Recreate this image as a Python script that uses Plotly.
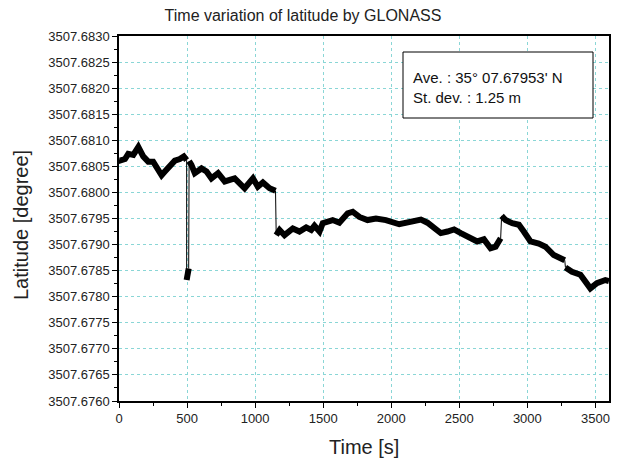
import plotly.graph_objects as go

# ---- data ----
seg1_t = [0, 7, 44, 68, 105, 142, 178, 215, 251, 288, 313, 337, 374, 410, 447, 476, 497]
seg1_lat = [3507.68063, 3507.68061, 3507.68064, 3507.68074, 3507.68072, 3507.68087, 3507.68069,
            3507.68059, 3507.68059, 3507.68046, 3507.68033, 3507.68040, 3507.68049, 3507.68061,
            3507.68064, 3507.68069, 3507.68062]

seg2_t = [497, 504, 512]
seg2_lat = [3507.67832, 3507.67843, 3507.67854]

seg3_t = [515, 532, 557, 606, 643, 679, 728, 777, 850, 923, 984, 1020, 1057, 1106, 1150]
seg3_lat = [3507.68060, 3507.68053, 3507.68037, 3507.68046, 3507.68040, 3507.68027, 3507.68037,
            3507.68021, 3507.68027, 3507.68008, 3507.68027, 3507.68011, 3507.68019, 3507.68008,
            3507.68003]

seg4_t = [1155, 1180, 1216, 1277, 1326, 1375, 1412, 1436, 1473, 1497, 1570, 1619, 1680, 1717,
          1766, 1826, 1888, 1961, 2059, 2132, 2218, 2266, 2303, 2364, 2413, 2462, 2511, 2571,
          2632, 2681, 2730, 2767, 2804]
seg4_lat = [3507.67918, 3507.67928, 3507.67918, 3507.67931, 3507.67925, 3507.67933, 3507.67928,
            3507.67936, 3507.67925, 3507.67941, 3507.67947, 3507.67942, 3507.67960, 3507.67963,
            3507.67953, 3507.67947, 3507.67950, 3507.67947, 3507.67939, 3507.67942, 3507.67948,
            3507.67942, 3507.67934, 3507.67922, 3507.67925, 3507.67929, 3507.67922, 3507.67915,
            3507.67906, 3507.67910, 3507.67893, 3507.67896, 3507.67912]

seg5_t = [2811, 2840, 2889, 2938, 2974, 3023, 3084, 3133, 3194, 3231, 3275]
seg5_lat = [3507.67955, 3507.67947, 3507.67941, 3507.67938, 3507.67925, 3507.67906, 3507.67902,
            3507.67896, 3507.67880, 3507.67874, 3507.67870]

seg6_t = [3280, 3328, 3390, 3463, 3511, 3573, 3600]
seg6_lat = [3507.67856, 3507.67848, 3507.67842, 3507.67816, 3507.67826, 3507.67832, 3507.67830]

segments = [(seg1_t, seg1_lat), (seg2_t, seg2_lat), (seg3_t, seg3_lat),
            (seg4_t, seg4_lat), (seg5_t, seg5_lat), (seg6_t, seg6_lat)]

x_ticks = [0, 500, 1000, 1500, 2000, 2500, 3000, 3500]
y_ticks = [3507.6760 + 0.0005 * i for i in range(15)]
y_tick_labels = ["%.4f" % v for v in y_ticks]

title_text = "Time variation of latitude by GLONASS"
x_title = "Time [s]"
y_title = "Latitude [degree]"
stat_lines = ["Ave. : 35° 07.67953' N", "St. dev. : 1.25 m"]

FONT = "Liberation Sans, Arial, sans-serif"
# page is 619x462; the figure div sits at an 8px body margin offset
OFF = 8
W, H = 619 - OFF, 462 - OFF
# plot area in page pixels: x 119..609, y 36..401
L, R, T, B = 119 - OFF, 619 - 609, 36 - OFF, 462 - 401
PW, PH = W - L - R, H - T - B


def px(xp):  # page x -> paper x
    return (xp - OFF - L) / PW


def py(yp):  # page y -> paper y
    return (H - B - (yp - OFF)) / PH


# ---- build figure ----
fig = go.Figure()

# thin connecting lines at the jumps
jx, jy = [], []
for (ta, la), (tb, lb) in zip(segments[:-1], segments[1:]):
    jx += [ta[-1], tb[0], None]
    jy += [la[-1], lb[0], None]
fig.add_trace(go.Scatter(x=jx, y=jy, mode="lines",
                         line=dict(color="black", width=1), hoverinfo="skip", showlegend=False))

# thick data segments
for t, lat in segments:
    fig.add_trace(go.Scatter(x=t, y=lat, mode="lines",
                             line=dict(color="black", width=6),
                             showlegend=False))

grid_col = "#8ad6d6"
fig.update_xaxes(range=[0, 3600], tickvals=x_ticks, ticks="outside", ticklen=5, tickwidth=1.2,
                 tickcolor="black", showline=True, linecolor="black", linewidth=1.5, mirror=True,
                 showgrid=True, gridcolor=grid_col, griddash="dot", gridwidth=1, zeroline=False,
                 minor=dict(dtick=250, tick0=0, ticks="outside", ticklen=3, tickcolor="black", showgrid=False),
                 tickfont=dict(family=FONT, size=13, color="#222"), automargin=False)
fig.update_yaxes(range=[3507.6760, 3507.6830], tickvals=y_ticks, ticktext=y_tick_labels,
                 ticks="outside", ticklen=5, tickwidth=1.2, tickcolor="black",
                 showline=True, linecolor="black", linewidth=1.5, mirror=True,
                 showgrid=True, gridcolor=grid_col, griddash="dot", gridwidth=1, zeroline=False,
                 minor=dict(dtick=0.00025, tick0=3507.6760, ticks="outside", ticklen=3, tickcolor="black", showgrid=False),
                 tickfont=dict(family=FONT, size=13, color="#222"), automargin=False)

# axis titles as annotations positioned in page pixels
fig.add_annotation(xref="paper", yref="paper", x=px(364), y=py(447), text=x_title,
                   showarrow=False, xanchor="center", yanchor="middle",
                   font=dict(family=FONT, size=20, color="#222"))
fig.add_annotation(xref="paper", yref="paper", x=px(21), y=py(225), text=y_title,
                   textangle=-90, showarrow=False, xanchor="center", yanchor="middle",
                   font=dict(family=FONT, size=20, color="#222"))

# stats box
fig.add_shape(type="rect", xref="paper", yref="paper",
              x0=px(403), x1=px(593), y0=py(118), y1=py(52),
              line=dict(color="black", width=1), fillcolor="white", layer="above")
for i, s in enumerate(stat_lines):
    fig.add_annotation(xref="paper", yref="paper", x=px(411), y=py(77 + 20 * i), text=s,
                       showarrow=False, xanchor="left", yanchor="middle",
                       font=dict(family=FONT, size=15, color="#111"))

fig.update_layout(
    width=W, height=H,
    margin=dict(l=L, r=R, t=T, b=B, autoexpand=False),
    paper_bgcolor="white", plot_bgcolor="white",
    title=dict(text=title_text, x=(303 - OFF) / W, xanchor="center", y=1 - (15 - OFF) / H, yanchor="middle",
               font=dict(family=FONT, size=16, color="#222")),
)

fig.write_html("out.html")
